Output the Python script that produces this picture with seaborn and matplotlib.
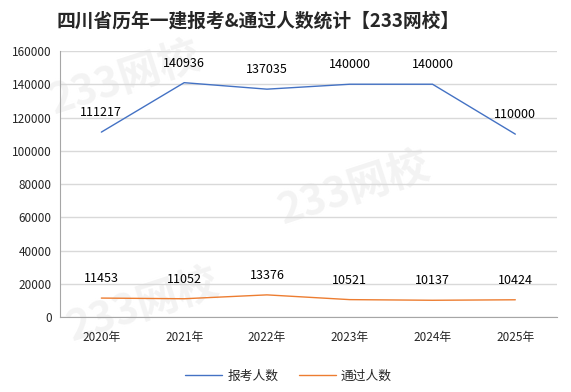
import pandas as pd
import matplotlib.pyplot as plt
import seaborn as sns

# ===== Données =====
years = ["2020年", "2021年", "2022年", "2023年", "2024年", "2025年"]
applicants = [111217, 140936, 137035, 140000, 140000, 110000]
passed = [11453, 11052, 13376, 10521, 10137, 10424]
series_names = ["报考人数", "通过人数"]
colors = ["#4472C4", "#ED7D31"]

df = pd.DataFrame({"year": years, series_names[0]: applicants, series_names[1]: passed})
long_df = df.melt(id_vars="year", var_name="series", value_name="value")

sns.set_style("white")
plt.rcParams["font.family"] = ["Noto Sans CJK SC", "DejaVu Sans"]

fig = plt.figure(figsize=(5.71, 3.92), dpi=100)
ax = fig.add_axes([0.105, 0.191, 0.870, 0.679])

# filigrane (très pâle, sous les courbes)
for x, y in [(0.22, 0.80), (0.62, 0.52), (0.25, 0.22)]:
    ax.text(x, y, "233网校", fontsize=30, fontweight="bold", color="#F3F3F3",
            rotation=18, ha="center", va="center", zorder=0.5,
            transform=fig.transFigure, clip_on=False)

sns.lineplot(data=long_df, x="year", y="value", hue="series", palette=colors,
             linewidth=1.0, ax=ax, sort=False, legend=False)

# étiquettes de données
for vals in [applicants, passed]:
    for i, v in enumerate(vals):
        ax.annotate(f"{v}", (i, v), xytext=(0, 14), textcoords="offset points",
                    ha="center", va="center", fontsize=9, color="#000000", zorder=5)

ax.set_xlim(-0.5, len(years) - 0.5)
ax.set_ylim(0, 160000)
ax.set_yticks(range(0, 160001, 20000))
ax.yaxis.grid(True, color="#D9D9D9", linewidth=1, zorder=0)
ax.set_axisbelow(True)
ax.set_xlabel("")
ax.set_ylabel("")

for s in ["top", "right"]:
    ax.spines[s].set_visible(False)
ax.spines["left"].set_color("#A6A6A6")
ax.spines["bottom"].set_color("#A6A6A6")
ax.tick_params(axis="x", length=4, color="#A6A6A6", labelsize=8.5, pad=6)
ax.tick_params(axis="y", length=4, color="#A6A6A6", labelsize=8.5, pad=2)

fig.text(0.452, 0.947, "四川省历年一建报考&通过人数统计【233网校】",
         fontsize=13.5, fontweight="heavy", ha="center", va="center")

handles = [plt.Line2D([], [], color=c, linewidth=1.0) for c in colors]
fig.legend(handles, series_names, loc="center", bbox_to_anchor=(0.505, 0.04),
           ncol=2, frameon=False, fontsize=9.2, handlelength=2.9,
           columnspacing=1.6, handletextpad=0.4)

fig.savefig("out.png", dpi=100)
